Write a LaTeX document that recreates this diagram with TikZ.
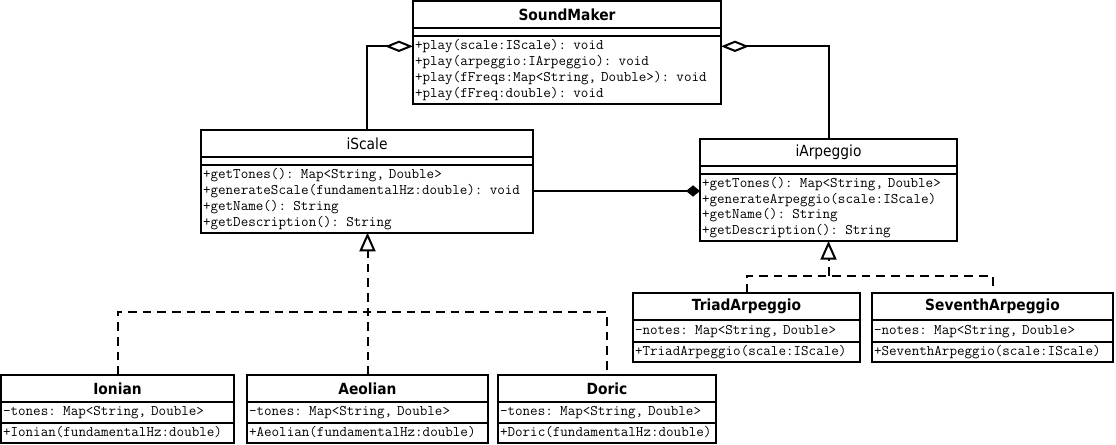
\documentclass[tikz,border=0pt]{standalone}
\usepackage{fontspec}
\newfontfamily\headfont[FakeStretch=0.9]{DejaVu Sans}
\usetikzlibrary{arrows.meta}

\tikzset{
  box/.style={draw, line width=1.5pt, anchor=north west, inner sep=0pt, outer sep=0pt},
  head/.style={box, minimum width=#1*0.75pt, minimum height=20.5pt, font=\headfont\fontsize{11.5}{13}\selectfont},
  bhead/.style={head=#1, font=\headfont\bfseries\fontsize{11.5}{13}\selectfont},
  field/.style={box, text width=#1*0.75pt-3pt, inner xsep=1.5pt, align=left, font=\ttfamily\fontsize{11}{11.8}\selectfont},
  row/.style={field=#1, text height=7.5pt, text depth=2.5pt},
  conn/.style={line width=1.5pt},
  aggr/.style={conn, -{Diamond[open, length=21pt, width=8.5pt]}},
  comp/.style={conn, -{Diamond[length=10.5pt, width=8.5pt]}},
  real/.style={conn, dash pattern=on 6.5pt off 4.5pt},
  realtip/.style={real, -{Triangle[open, length=14pt, width=12pt]}},
}

\begin{document}
\begin{tikzpicture}[x=0.75pt, y=-0.75pt]
  \useasboundingbox (0,0) rectangle (1116,445);

  % SoundMaker
  \node[bhead=308] (sm) at (413,1) {SoundMaker};
  \node[field=308, minimum height=6pt] (smattr) at (sm.south west) {};
  \node[field=308, minimum height=50.5pt] (smops) at (smattr.south west) {+play(scale:IScale): void\\+play(arpeggio:IArpeggio): void\\+play(fFreqs:Map<String, Double>): void\\+play(fFreq:double): void};

  % interfaces
  \node[head=332] (scale) at (201,130) {iScale};
  \node[field=332, minimum height=6pt] (scaleattr) at (scale.south west) {};
  \node[field=332, minimum height=50.5pt] (scaleops) at (scaleattr.south west) {+getTones(): Map<String, Double>\\+generateScale(fundamentalHz:double): void\\+getName(): String\\+getDescription(): String};

  \node[head=257] (arp) at (700,139) {iArpeggio};
  \node[field=257, minimum height=6pt] (arpattr) at (arp.south west) {};
  \node[field=257, minimum height=50pt] (arpops) at (arpattr.south west) {+getTones(): Map<String, Double>\\+generateArpeggio(scale:IScale)\\+getName(): String\\+getDescription(): String};

  % arpeggios
  \node[bhead=227] (triad) at (633,293) {TriadArpeggio};
  \node[row=227, minimum height=16pt] (triadattr) at (triad.south west) {-notes: Map<String, Double>};
  \node[row=227, minimum height=15pt] (triadops) at (triadattr.south west) {+TriadArpeggio(scale:IScale)};

  \node[bhead=241] (seventh) at (872,293) {SeventhArpeggio};
  \node[row=241, minimum height=16pt] (seventhattr) at (seventh.south west) {-notes: Map<String, Double>};
  \node[row=241, minimum height=15pt] (seventhops) at (seventhattr.south west) {+SeventhArpeggio(scale:IScale)};

  % scales
  \node[bhead=233, minimum height=20.25pt] (ionian) at (1,375) {Ionian};
  \node[row=233, minimum height=15.75pt] (ionianattr) at (ionian.south west) {-tones: Map<String, Double>};
  \node[row=233, minimum height=15.25pt] (ionianops) at (ionianattr.south west) {+Ionian(fundamentalHz:double)};

  \node[bhead=241, minimum height=20.25pt] (aeolian) at (247,375) {Aeolian};
  \node[row=241, minimum height=15.75pt] (aeolianattr) at (aeolian.south west) {-tones: Map<String, Double>};
  \node[row=241, minimum height=15.25pt] (aeolianops) at (aeolianattr.south west) {+Aeolian(fundamentalHz:double)};

  \node[bhead=218, minimum height=20.25pt] (doric) at (498,375) {Doric};
  \node[row=218, minimum height=15.75pt] (doricattr) at (doric.south west) {-tones: Map<String, Double>};
  \node[row=218, minimum height=15.25pt] (doricops) at (doricattr.south west) {+Doric(fundamentalHz:double)};

  % aggregation and composition
  \draw[aggr] (scale.north) |- ([yshift=-7.5pt]smops.north west);
  \draw[aggr] (arp.north) |- ([yshift=-7.5pt]smops.north east);
  \coordinate (compL) at ([yshift=6pt]scaleops.east);
  \draw[comp] (compL) -- (compL -| arpops.west);

  % realization
  \coordinate (scalebus) at (368,312);
  \draw[real] (ionian.north) |- (scalebus) -| (doric.north);
  \draw[realtip] (aeolian.north) -- (aeolian.north |- scaleops.south);
  \coordinate (arpbus) at (828.5,276);
  \draw[real] (triad.north) |- (arpbus) -| (seventh.north);
  \draw[realtip] (arpbus) -- (arpops.south);
\end{tikzpicture}
\end{document}
